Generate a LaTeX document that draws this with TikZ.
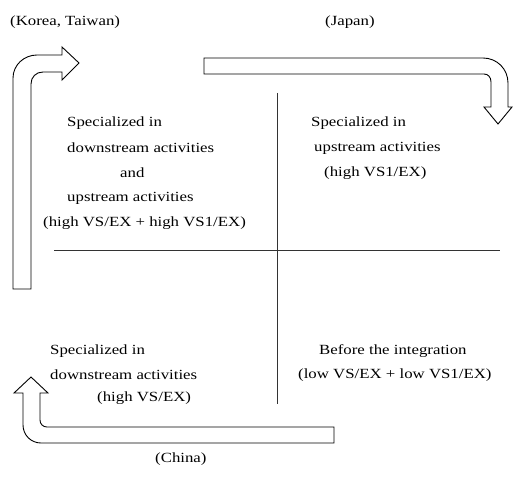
\documentclass[tikz,border=0pt]{standalone}
\usepackage{fontspec}
\setmainfont[FakeStretch=1.2]{Liberation Serif}
\usepackage{tikz}
\usetikzlibrary{calc,positioning}
\tikzset{
  flow/.style={draw=black, line width=0.9pt, fill=white, line join=miter},
  axis/.style={draw=black!80, line width=0.6pt},
  lbl/.style={anchor=west, inner sep=0pt, font=\fontsize{14}{16}\selectfont},
}
\begin{document}
\begin{tikzpicture}[x=1pt,y=-1pt]
  \useasboundingbox (0,0) rectangle (513,484);
  % quadrant axes
  \draw[axis] (54,250) -- (500,250);
  \draw[axis] (277,93) -- (277,404);
  % block arrows
  \draw[flow] (13,289) -- (13,78) .. controls (13,65) and (24,55) .. (37,55)
    -- (62,55) -- (62,47) -- (79,63) -- (62,80) -- (62,72) -- (43,72)
    .. controls (36,72) and (31,77) .. (31,84) -- (31,289) -- cycle;
  \draw[flow] (204,58) -- (483,58) .. controls (497,58) and (508,69) .. (508,83)
    -- (508,107) -- (512,107) -- (498,124) -- (484,107) -- (491,107) -- (491,82)
    .. controls (491,77) and (488,74) .. (484,74) -- (204,74) -- cycle;
  \draw[flow] (334,427) -- (47,427) .. controls (43,427) and (40,424) .. (40,420)
    -- (40,393) -- (48,393) -- (31,377) -- (14,393) -- (23,393) -- (23,425)
    .. controls (23,435) and (31,443) .. (41,443) -- (334,443) -- cycle;
  % regions
  \node[lbl] (korea) at (10,22) {(Korea, Taiwan)};
  \node[lbl] (japan) at (325,22) {(Japan)};
  \node[lbl] (china) at (155,459) {(China)};
  % top left
  \node[lbl] (tl1) at (67,123) {Specialized in};
  \node[lbl] (tl2) at (67,148) {downstream activities};
  \node[lbl] (tl3) at (120,173) {and};
  \node[lbl] (tl4) at (67,198) {upstream activities};
  \node[lbl] (tl5) at (43,223) {(high VS/EX + high VS1/EX)};
  % top right
  \node[lbl] (tr1) at (311,123) {Specialized in};
  \node[lbl] (tr2) at (314,148) {upstream activities};
  \node[lbl] (tr3) at (324,173) {(high VS1/EX)};
  % bottom left
  \node[lbl] (bl1) at (50,351) {Specialized in};
  \node[lbl] (bl2) at (50,375) {downstream activities};
  \node[lbl] (bl3) at (97,398) {(high VS/EX)};
  % bottom right
  \node[lbl] (br1) at (319,351) {Before the integration};
  \node[lbl] (br2) at (298,375) {(low VS/EX + low VS1/EX)};
\end{tikzpicture}
\end{document}
